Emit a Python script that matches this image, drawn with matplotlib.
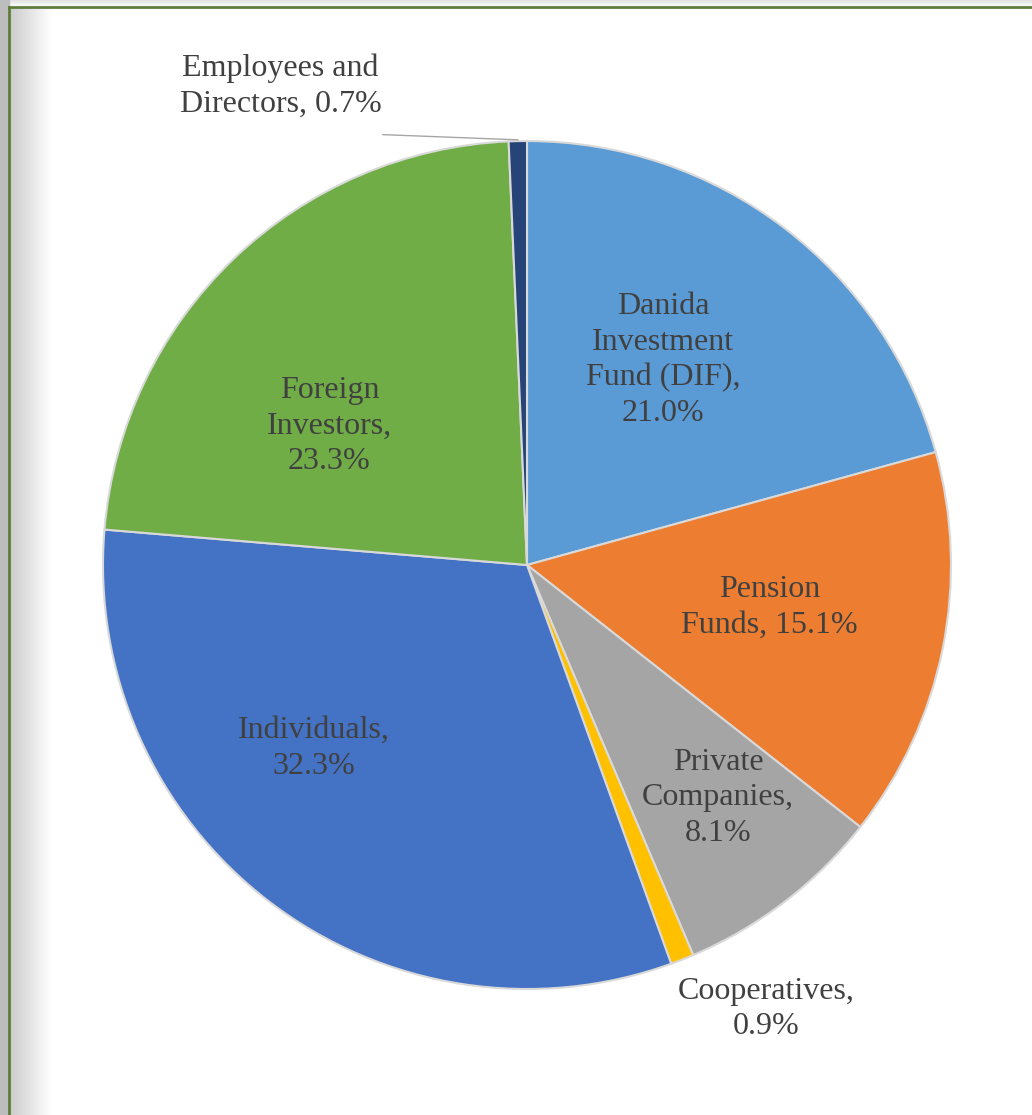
import numpy as np
import matplotlib.pyplot as plt

# shareholder groups, clockwise from 12 o'clock
labels = ['Danida\nInvestment\nFund (DIF),', 'Pension\nFunds,', 'Private\nCompanies,',
          'Cooperatives,', 'Individuals,', 'Foreign\nInvestors,', 'Employees and\nDirectors,']
shares = [21.0, 15.1, 8.1, 0.9, 32.3, 23.3, 0.7]
colors = ['#5B9BD5', '#ED7D31', '#A5A5A5', '#FFC000', '#4472C4', '#70AD47', '#264478']

# how the value follows the name (new line or same line)
joins = ['\n', ' ', '\n', '\n', '\n', '\n', ' ']
# label placement: radius (fraction of R) and angle shift in degrees
lab_r = [0.58, 0.58, 0.71, 1.19, 0.663, 0.57, 1.27]
lab_shift = [3.7, 1.5, 1.9, 6.85, -11.85, 11.0, 26.0]

W, H = 1032, 1115
fig = plt.figure(figsize=(W / 100, H / 100), dpi=100)
fig.patch.set_facecolor('white')

# frame / background decoration
bg = fig.add_axes([0, 0, 1, 1], zorder=-5)
bg.axis('off')
grad = np.linspace(0.80, 1.0, 64).reshape(1, -1)
bg.imshow(np.dstack([grad] * 3), extent=[10, 52, H, 8], aspect='auto', zorder=1)
topg = np.linspace(0.88, 0.98, 32).reshape(-1, 1)
bg.imshow(np.dstack([topg] * 3), extent=[0, W, 6, 0], aspect='auto', zorder=1)
bg.add_patch(plt.Rectangle((0, 0), 9, H, color='#bdbdbd', zorder=2))
bg.plot([9, 9], [7, H], color='#5e7d3a', lw=2, zorder=3)
bg.plot([9, W], [7, 7], color='#5e7d3a', lw=2, zorder=3)
bg.set_xlim(0, W)
bg.set_ylim(H, 0)

cx, cy, R = 527, 565, 424
ax = fig.add_axes([(cx - R) / W, (H - cy - R) / H, 2 * R / W, 2 * R / H])
wedges, _ = ax.pie(shares, colors=colors, startangle=90, counterclock=False,
                   wedgeprops=dict(edgecolor='#d9d9d9', linewidth=1.5))
ax.set_xlim(-1, 1)
ax.set_ylim(-1, 1)
ax.axis('off')

font = dict(family=['Liberation Serif', 'DejaVu Serif'], size=23, color='#404040')
for w, lab, s, j, r, sh in zip(wedges, labels, shares, joins, lab_r, lab_shift):
    mid = np.deg2rad((w.theta1 + w.theta2) / 2 + sh)
    x, y = r * np.cos(mid), r * np.sin(mid)
    ax.text(x, y, f'{lab}{j}{s:.1f}%', ha='center', va='center',
            linespacing=1.3, **font)

# leader line for the tiny employees slice
emp = wedges[-1]
m = np.deg2rad((emp.theta1 + emp.theta2) / 2)
ax.plot([-0.34, np.cos(m)], [1.015, np.sin(m) + 0.003], color='#a6a6a6', lw=1,
        clip_on=False)

fig.savefig('out.png', dpi=100)
